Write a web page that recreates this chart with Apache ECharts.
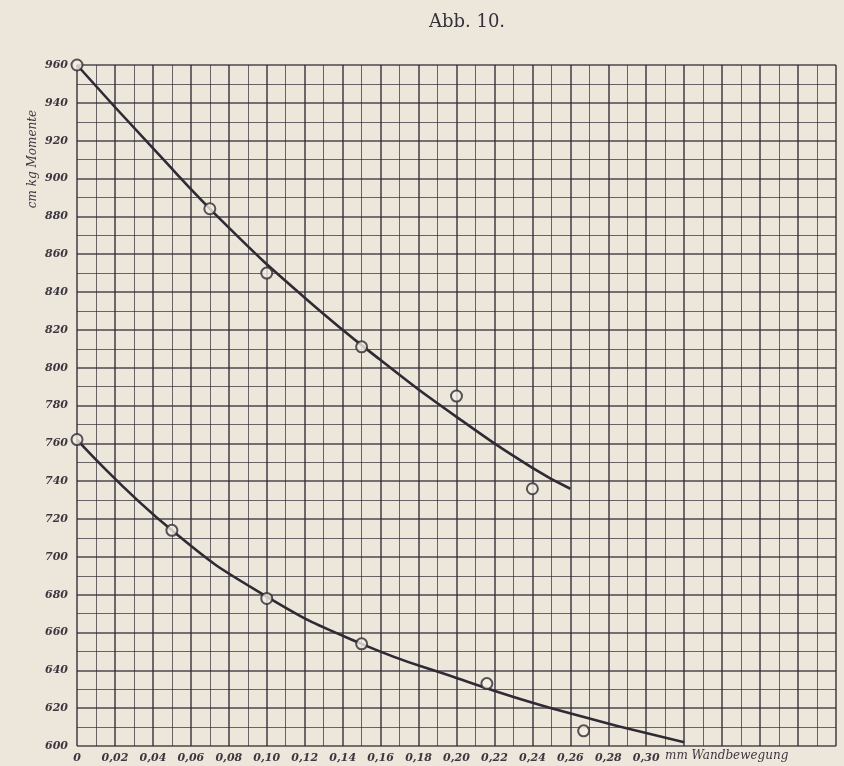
<!DOCTYPE html>
<html>
<head>
<meta charset="utf-8">
<script src="https://cdn.jsdelivr.net/npm/echarts@6/dist/echarts.min.js"></script>
<style>
  html, body { margin: 0; padding: 0; background: #ede6da; }
  #chart { width: 844px; height: 766px; }
</style>
</head>
<body>
<div id="chart"></div>
<script>
// measured points (x = Wandbewegung mm, y = cm kg Momente)
const upperPoints = [[0, 960], [0.07, 884], [0.10, 850], [0.15, 811], [0.20, 785], [0.24, 736]];
const lowerPoints = [[0, 762], [0.05, 714], [0.10, 678], [0.15, 654], [0.216, 633], [0.267, 608]];

// drawn fitting curves
const upperCurve = [[0, 960], [0.04, 916], [0.08, 874], [0.12, 837], [0.16, 804], [0.20, 774], [0.24, 747], [0.26, 736]];
const lowerCurve = [[0, 762], [0.05, 714], [0.10, 679], [0.15, 654], [0.20, 636], [0.25, 620], [0.32, 602]];

const ink = '#2f2b35';
const labelFont = { fontFamily: 'DejaVu Serif', fontStyle: 'italic', fontWeight: 'bold', fontSize: 11, color: '#3b3640' };

const chart = echarts.init(document.getElementById('chart'));

const option = {
  backgroundColor: '#ede6da',
  animation: false,
  title: {
    text: 'Abb. 10.',
    left: 462, top: 8,
    textAlign: 'center',
    textStyle: { fontFamily: 'DejaVu Serif', fontWeight: 'normal', fontSize: 18, color: '#35303a' }
  },
  grid: { left: 77, top: 65, right: 8, bottom: 20 },
  xAxis: {
    type: 'value',
    min: 0, max: 0.40, interval: 0.02,
    axisLine: { show: false },
    axisTick: { show: false },
    axisLabel: Object.assign({
      margin: 7,
      showMaxLabel: false,
      formatter: v => v > 0.305 ? '' : (v === 0 ? '0' : v.toFixed(2).replace('.', ','))
    }, labelFont),
    splitLine: { show: true, lineStyle: { color: ink, width: 1.6, opacity: 0.85 } },
    minorTick: { show: false, splitNumber: 2 },
    minorSplitLine: { show: true, lineStyle: { color: ink, width: 1, opacity: 0.7 } }
  },
  yAxis: {
    type: 'value',
    min: 600, max: 960, interval: 20,
    axisLine: { show: false },
    axisTick: { show: false },
    axisLabel: Object.assign({ margin: 9 }, labelFont),
    splitLine: { show: true, lineStyle: { color: ink, width: 1.6, opacity: 0.85 } },
    minorTick: { show: false, splitNumber: 2 },
    minorSplitLine: { show: true, lineStyle: { color: ink, width: 1, opacity: 0.7 } }
  },
  graphic: [
    {
      type: 'text',
      x: 33, y: 159,
      rotation: Math.PI / 2,
      style: { text: 'cm kg Momente', font: 'italic 12px "DejaVu Serif"', fill: '#3b3640', align: 'center', verticalAlign: 'middle' }
    },
    {
      type: 'text',
      left: 665, top: 750,
      style: { text: 'mm Wandbewegung', font: 'italic 12px "DejaVu Serif"', fill: '#3b3640' }
    }
  ],
  series: [
    {
      type: 'line', data: upperCurve, smooth: true, showSymbol: false,
      lineStyle: { color: ink, width: 2.6 }, z: 3
    },
    {
      type: 'line', data: lowerCurve, smooth: true, showSymbol: false,
      lineStyle: { color: ink, width: 2.6 }, z: 3
    },
    {
      type: 'scatter', data: upperPoints, symbol: 'circle', symbolSize: 11,
      itemStyle: { color: '#f3eee4', borderColor: ink, borderWidth: 2 }, z: 4
    },
    {
      type: 'scatter', data: lowerPoints, symbol: 'circle', symbolSize: 11,
      itemStyle: { color: '#f3eee4', borderColor: ink, borderWidth: 2 }, z: 4
    }
  ]
};

chart.setOption(option);
</script>
</body>
</html>
